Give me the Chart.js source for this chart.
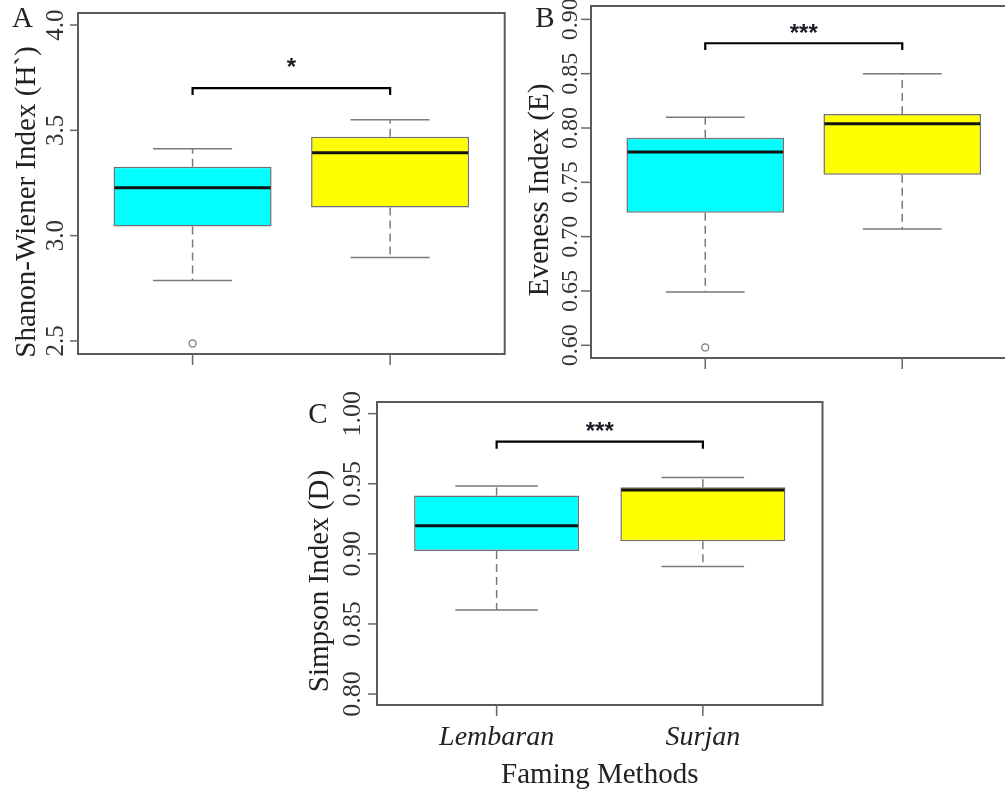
<!DOCTYPE html>
<html>
<head>
<meta charset="utf-8">
<script src="https://cdn.jsdelivr.net/npm/chart.js@4.4.0/dist/chart.umd.min.js"></script>
<style>
  html, body { margin: 0; padding: 0; background: #fff; overflow: hidden; width: 1005px; height: 789px; }
  canvas { position: absolute; }
</style>
</head>
<body>
<canvas id="chartA" width="510" height="375" style="left:0px;top:0px"></canvas>
<canvas id="chartB" width="520" height="375" style="left:505px;top:0px"></canvas>
<canvas id="chartC" width="540" height="409" style="left:290px;top:380px"></canvas>
<script>
const categories = ["Lembaran", "Surjan"];

// A - Shannon-Wiener
const shannonLow = [2.787, 2.896];
const shannonQ1 = [3.043, 3.133];
const shannonMedian = [3.227, 3.393];
const shannonQ3 = [3.327, 3.469];
const shannonHigh = [3.412, 3.550];
const shannonOutliers = [[2.488], []];
const shannonTicks = [2.5, 3.0, 3.5, 4.0];
const shannonBracket = [3.700, 3.668];
const shannonStarY = 3.825;

// B - Eveness
const evenLow = [0.649, 0.707];
const evenQ1 = [0.722, 0.757];
const evenMedian = [0.778, 0.804];
const evenQ3 = [0.791, 0.813];
const evenHigh = [0.810, 0.850];
const evenOutliers = [[0.598], []];
const evenTicks = [0.60, 0.65, 0.70, 0.75, 0.80, 0.85, 0.90];
const evenBracket = [0.878, 0.8717];
const evenStarY = 0.8917;

// C - Simpson
const simpLow = [0.860, 0.891];
const simpQ1 = [0.902, 0.909];
const simpMedian = [0.920, 0.9455];
const simpQ3 = [0.9416, 0.9475];
const simpHigh = [0.9484, 0.9544];
const simpOutliers = [[], []];
const simpTicks = [0.80, 0.85, 0.90, 0.95, 1.00];
const simpBracket = [0.980, 0.975];
const simpStarY = 0.991;

const boxColors = ["#00ffff", "#ffff00"];
const serif = "'Liberation Serif', 'Times New Roman', serif";

const panels = [
  {
    id: "chartA", letter: "A", title: "Shanon-Wiener Index (H`)", sig: "*",
    low: shannonLow, q1: shannonQ1, median: shannonMedian, q3: shannonQ3, high: shannonHigh,
    outliers: shannonOutliers, ticks: shannonTicks, bracket: shannonBracket, starY: shannonStarY,
    yMin: 2.438, yMax: 4.057, digits: 1,
    pad: { left: 78, top: 13, right: 5, bottom: 21 },
    tickFont: 25, tickLabelX: 63, tickLen: 8, titleX: 35, titleY: 202, letterX: 22.5, letterY: 27,
    xLabels: false
  },
  {
    id: "chartB", letter: "B", title: "Eveness Index (E)", sig: "***",
    low: evenLow, q1: evenQ1, median: evenMedian, q3: evenQ3, high: evenHigh,
    outliers: evenOutliers, ticks: evenTicks, bracket: evenBracket, starY: evenStarY,
    yMin: 0.5883, yMax: 0.9123, digits: 2,
    pad: { left: 86, top: 6, right: 8.5, bottom: 17 },
    tickFont: 24, tickLabelX: 72, tickLen: 10, titleX: 43, titleY: 190, letterX: 40, letterY: 27,
    xLabels: false
  },
  {
    id: "chartC", letter: "C", title: "Simpson Index (D)", sig: "***",
    low: simpLow, q1: simpQ1, median: simpMedian, q3: simpQ3, high: simpHigh,
    outliers: simpOutliers, ticks: simpTicks, bracket: simpBracket, starY: simpStarY,
    yMin: 0.7922, yMax: 1.0083, digits: 2,
    pad: { left: 87, top: 22, right: 7.5, bottom: 84 },
    tickFont: 26, tickLabelX: 70, tickLen: 9, titleX: 38, titleY: 201, letterX: 28, letterY: 43,
    xLabels: true, xTitle: "Faming Methods"
  }
];

const boxPlotPlugin = {
  id: "boxPlot",
  beforeDatasetsDraw(chart) {
    const p = chart.config.options.plugins.boxPlot;
    const ctx = chart.ctx, xs = chart.scales.x, ys = chart.scales.y;
    const bars = chart.getDatasetMeta(0).data;
    ctx.save();
    ctx.strokeStyle = "#7a7a7a";
    ctx.lineWidth = 1.5;
    categories.forEach((c, i) => {
      const cx = xs.getPixelForValue(i + 1);
      const half = bars[i].width / 4;
      ctx.setLineDash([8, 5]);
      ctx.beginPath();
      ctx.moveTo(cx, ys.getPixelForValue(p.q3[i]));
      ctx.lineTo(cx, ys.getPixelForValue(p.high[i]));
      ctx.moveTo(cx, ys.getPixelForValue(p.q1[i]));
      ctx.lineTo(cx, ys.getPixelForValue(p.low[i]));
      ctx.stroke();
      ctx.setLineDash([]);
      ctx.beginPath();
      ctx.moveTo(cx - half, ys.getPixelForValue(p.high[i]));
      ctx.lineTo(cx + half, ys.getPixelForValue(p.high[i]));
      ctx.moveTo(cx - half, ys.getPixelForValue(p.low[i]));
      ctx.lineTo(cx + half, ys.getPixelForValue(p.low[i]));
      ctx.stroke();
    });
    ctx.restore();
  },
  afterDatasetsDraw(chart) {
    const p = chart.config.options.plugins.boxPlot;
    const ctx = chart.ctx, xs = chart.scales.x, ys = chart.scales.y, area = chart.chartArea;
    const bars = chart.getDatasetMeta(0).data;
    ctx.save();
    // medians
    ctx.strokeStyle = "#111";
    ctx.lineWidth = 3;
    categories.forEach((c, i) => {
      const cx = xs.getPixelForValue(i + 1);
      const half = bars[i].width / 2 - 1;
      const my = ys.getPixelForValue(p.median[i]);
      ctx.beginPath();
      ctx.moveTo(cx - half, my);
      ctx.lineTo(cx + half, my);
      ctx.stroke();
    });
    // significance bracket
    const x1 = xs.getPixelForValue(1), x2 = xs.getPixelForValue(2);
    const by = ys.getPixelForValue(p.bracket[0]), be = ys.getPixelForValue(p.bracket[1]);
    ctx.strokeStyle = "#000";
    ctx.lineWidth = 2.2;
    ctx.beginPath();
    ctx.moveTo(x1, be);
    ctx.lineTo(x1, by);
    ctx.lineTo(x2, by);
    ctx.lineTo(x2, be);
    ctx.stroke();
    ctx.fillStyle = "#1c1c28";
    ctx.font = "bold 24px 'Liberation Sans', Arial, sans-serif";
    ctx.textAlign = "center";
    ctx.textBaseline = "alphabetic";
    ctx.fillText(p.sig, (x1 + x2) / 2, ys.getPixelForValue(p.starY) + 13);
    // frame
    ctx.strokeStyle = "#5a5a5a";
    ctx.lineWidth = 2;
    ctx.strokeRect(area.left, area.top, area.right - area.left, area.bottom - area.top);
    // y ticks
    ctx.lineWidth = 1.5;
    ctx.strokeStyle = "#666";
    ctx.fillStyle = "#333";
    ctx.font = p.tickFont + "px " + serif;
    p.ticks.forEach(t => {
      const ty = ys.getPixelForValue(t);
      ctx.beginPath();
      ctx.moveTo(area.left - p.tickLen, ty);
      ctx.lineTo(area.left, ty);
      ctx.stroke();
      ctx.save();
      ctx.translate(p.tickLabelX, ty);
      ctx.rotate(-Math.PI / 2);
      ctx.fillText(t.toFixed(p.digits), 0, 0);
      ctx.restore();
    });
    // x ticks
    categories.forEach((c, i) => {
      const cx = xs.getPixelForValue(i + 1);
      ctx.beginPath();
      ctx.moveTo(cx, area.bottom);
      ctx.lineTo(cx, area.bottom + 11);
      ctx.stroke();
      if (p.xLabels) {
        ctx.font = "italic 28px " + serif;
        ctx.fillStyle = "#222";
        ctx.fillText(c, cx, area.bottom + 40);
      }
    });
    if (p.xTitle) {
      ctx.font = "29px " + serif;
      ctx.fillStyle = "#222";
      ctx.fillText(p.xTitle, (area.left + area.right) / 2, area.bottom + 78);
    }
    // y title
    ctx.save();
    ctx.translate(p.titleX, p.titleY);
    ctx.rotate(-Math.PI / 2);
    ctx.font = "29px " + serif;
    ctx.fillStyle = "#222";
    ctx.fillText(p.title, 0, 0);
    ctx.restore();
    // panel letter
    ctx.font = "29px " + serif;
    ctx.fillStyle = "#222";
    ctx.fillText(p.letter, p.letterX, p.letterY);
    ctx.restore();
  }
};

panels.forEach(p => {
  new Chart(document.getElementById(p.id), {
    type: "bar",
    data: {
      datasets: [
        {
          type: "bar",
          data: categories.map((c, i) => ({ x: i + 1, y: [p.q1[i], p.q3[i]] })),
          backgroundColor: boxColors,
          borderColor: "#707070",
          borderWidth: 1.5,
          borderSkipped: false,
          barPercentage: 0.8,
          categoryPercentage: 1
        },
        {
          type: "scatter",
          data: p.outliers.flatMap((vals, i) => vals.map(v => ({ x: i + 1, y: v }))),
          pointStyle: "circle",
          pointRadius: 3.5,
          borderColor: "#777",
          backgroundColor: "#fff",
          borderWidth: 1.3
        }
      ]
    },
    options: {
      responsive: false,
      animation: false,
      devicePixelRatio: 1,
      events: [],
      layout: { padding: p.pad },
      plugins: { legend: { display: false }, tooltip: { enabled: false }, boxPlot: p },
      scales: {
        x: {
          type: "linear", min: 0.42, max: 2.58, display: false, offset: false,
          afterBuildTicks: s => { s.ticks = categories.map((c, i) => ({ value: i + 1 })); }
        },
        y: { type: "linear", min: p.yMin, max: p.yMax, display: false }
      }
    },
    plugins: [boxPlotPlugin]
  });
});
</script>
</body>
</html>
